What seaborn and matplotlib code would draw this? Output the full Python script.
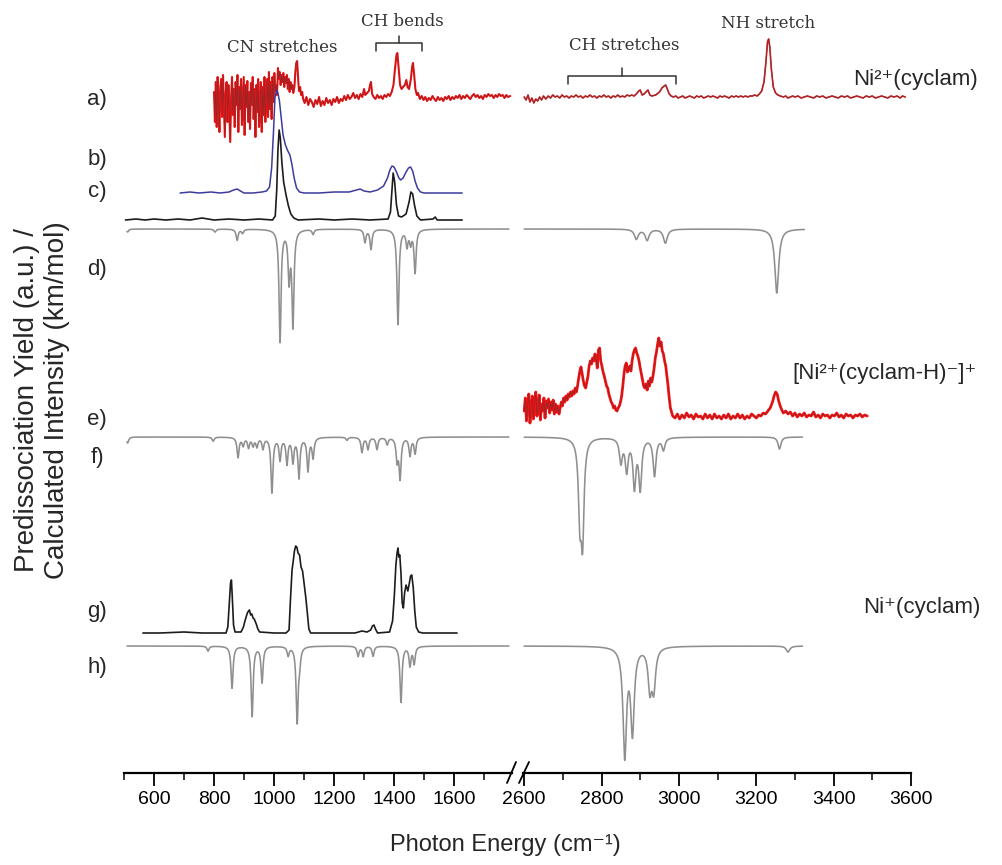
import numpy as np
import matplotlib
matplotlib.use("Agg")
import matplotlib.pyplot as plt
from matplotlib.lines import Line2D
import seaborn as sns

# ── Layout (pixels of the 1002x865 figure) ────────────────
W, H = 1002, 865
AXIS_Y = 773
LEFT_RANGE = (500, 1793)
RIGHT_RANGE = (2597, 3600)

# ── Experimental traces: (photon energy cm-1, yield a.u.) ─
a_left = [
    (800, 5), (803, -25), (806, 15), (809, -30), (812, 20), (815, -5), (818, -35), (821, 10),
    (824, 18), (827, -20), (830, 22), (833, -10), (836, -40), (839, 5), (842, 15), (845, -25),
    (848, 12), (851, -15), (854, -45), (857, 0), (860, 20), (863, -18), (866, 8), (869, -30),
    (872, 15), (875, -8), (878, 22), (881, -35), (884, 10), (887, -12), (890, 18), (893, -28),
    (896, -5), (899, 20), (902, -38), (905, 12), (908, -10), (911, 16), (914, -25), (917, 5),
    (920, -32), (923, 14), (926, -8), (929, 20), (932, -22), (935, 8), (938, -40), (941, 12),
    (944, -15), (947, 18), (950, -30), (953, -10), (956, 15), (959, -35), (962, 10), (965, -18),
    (968, 20), (971, -25), (974, 5), (977, 18), (980, -20), (983, 25), (986, -12), (989, 15),
    (992, -22), (995, 20), (998, -5), (1001, 24), (1004, 6), (1007, 12), (1010, 2),
    (1013, 29), (1016, 18), (1019, 25), (1022, 12), (1025, 22), (1028, 15), (1031, 24),
    (1034, 10), (1037, 20), (1040, 14), (1043, 22), (1046, 8), (1049, 18), (1052, 5),
    (1055, 15), (1058, 8), (1061, 12), (1064, 4), (1068, 10), (1071, 25), (1074, 34),
    (1077, 36), (1080, 20), (1083, 6), (1087, 10), (1090, 2), (1094, 5), (1097, -2),
    (1102, -6), (1108, 0), (1114, -8), (1120, -2), (1126, -5), (1132, -10), (1138, -3),
    (1144, -7), (1150, 0), (1156, -9), (1162, -4), (1168, -8), (1174, -1), (1180, -6),
    (1186, -3), (1192, -8), (1198, -2), (1204, -5), (1210, 0), (1216, -6), (1222, -2),
    (1228, -4), (1234, 1), (1240, -3), (1246, 2), (1252, -2), (1258, 0), (1264, 4),
    (1270, -1), (1276, 2), (1282, -2), (1288, 3), (1294, 0), (1300, 8), (1304, 2),
    (1310, 4), (1316, 6), (1320, 12), (1323, 15), (1327, 3), (1332, 0), (1338, -2),
    (1344, 2), (1350, -1), (1356, 1), (1362, -2), (1368, 2), (1374, 0), (1380, 3),
    (1386, 1), (1392, 5), (1398, 12), (1403, 28), (1408, 42), (1411, 44), (1415, 30),
    (1420, 12), (1425, 8), (1430, 10), (1436, 12), (1441, 17), (1445, 10), (1450, 8),
    (1456, 18), (1460, 30), (1463, 34), (1467, 22), (1471, 8), (1476, 2), (1480, 4),
    (1486, -2), (1492, 1), (1498, -3), (1504, 0), (1510, -4), (1516, -1), (1522, -3),
    (1528, 1), (1534, -2), (1540, -4), (1546, 0), (1552, -3), (1558, -1), (1564, -4),
    (1570, 0), (1576, -2), (1582, 1), (1588, -3), (1594, 0), (1600, -2), (1606, 1),
    (1612, -1), (1618, 2), (1624, -2), (1630, 1), (1636, -1), (1642, 2), (1648, 0),
    (1654, -2), (1660, 1), (1666, 3), (1672, 0), (1678, 2), (1684, -1), (1690, 1),
    (1696, -2), (1702, 2), (1708, 0), (1714, 3), (1720, 1), (1726, 2), (1732, -1),
    (1738, 2), (1744, 0), (1750, 3), (1756, 1), (1762, 2), (1768, -1), (1774, 2),
    (1780, 0), (1787, 1),
]

a_right = [
    (2600, 0), (2605, -3), (2610, 2), (2615, -5), (2620, -1), (2625, -6), (2630, -2),
    (2635, -4), (2640, 0), (2645, -3), (2650, 1), (2656, -2), (2662, 1), (2668, -1),
    (2674, 2), (2680, 0), (2686, 1), (2692, -1), (2698, 2), (2704, 0), (2710, 1),
    (2716, -1), (2722, 1), (2728, 0), (2734, 2), (2740, 0), (2746, 1), (2752, -1),
    (2758, 1), (2764, 0), (2770, 2), (2776, 0), (2782, 1), (2788, -1), (2794, 1),
    (2800, 0), (2806, 2), (2812, 0), (2818, 1), (2824, -1), (2830, 1), (2836, 0),
    (2842, 2), (2848, 0), (2854, 1), (2860, 0), (2866, 2), (2872, 1), (2878, 2),
    (2884, 1), (2890, 3), (2896, 6), (2900, 7), (2905, 2), (2910, 3), (2915, 5),
    (2920, 7), (2925, 2), (2930, 1), (2940, 2), (2950, 5), (2956, 9), (2962, 11),
    (2966, 12), (2970, 8), (2975, 3), (2980, 1), (2986, 0), (2992, 1), (2998, -1),
    (3004, 0), (3010, 1), (3016, -1), (3022, 0), (3028, 1), (3034, 0), (3040, -1),
    (3046, 1), (3052, 0), (3058, 1), (3064, -1), (3070, 0), (3076, 1), (3082, 0),
    (3088, 1), (3094, 0), (3100, -1), (3106, 1), (3112, 0), (3118, 1), (3124, 0),
    (3130, -1), (3136, 1), (3142, 0), (3148, 1), (3154, 0), (3160, 1), (3166, 0),
    (3172, 1), (3178, 0), (3184, 1), (3190, 1), (3196, 2), (3202, 1), (3208, 3),
    (3214, 6), (3220, 15), (3225, 35), (3229, 55), (3232, 58), (3235, 50), (3239, 28),
    (3244, 10), (3250, 4), (3256, 2), (3262, 1), (3270, 0), (3276, 1), (3282, -1),
    (3288, 0), (3294, 1), (3300, 0), (3308, 1), (3316, -1), (3324, 0), (3332, 1),
    (3340, 0), (3348, -1), (3356, 1), (3364, 0), (3372, 1), (3380, -1), (3388, 0),
    (3396, 1), (3404, 0), (3412, -1), (3420, 1), (3428, 0), (3436, 1), (3444, -1),
    (3452, 0), (3460, 1), (3468, 0), (3476, -1), (3484, 1), (3492, 0), (3500, 1),
    (3508, -1), (3516, 0), (3524, 1), (3532, 0), (3540, -1), (3548, 1), (3556, 0),
    (3564, 1), (3572, -1), (3578, 1), (3585, 0),
]

b_blue = [
    (687, 0), (720, 1), (750, 0), (790, 1), (820, 0), (850, 1), (865, 3), (877, 4),
    (888, 2), (900, 0), (930, 0), (960, 1), (975, 2), (985, 6), (992, 25), (998, 60),
    (1003, 95), (1008, 103), (1013, 100), (1018, 92), (1024, 75), (1030, 58), (1038, 48),
    (1046, 42), (1053, 38), (1060, 28), (1067, 15), (1075, 5), (1085, 1), (1100, 0),
    (1150, 0), (1200, 1), (1250, 1), (1275, 3), (1287, 4), (1300, 2), (1320, 1),
    (1345, 3), (1365, 7), (1378, 15), (1386, 23), (1393, 27), (1400, 26), (1408, 21),
    (1416, 15), (1422, 13), (1430, 15), (1440, 21), (1448, 25), (1455, 26), (1462, 22),
    (1470, 12), (1478, 5), (1488, 1), (1500, 0), (1560, 0), (1627, 0),
]

c_black = [
    (505, 0), (540, 1), (570, 0), (600, 1), (640, 0), (680, 1), (720, 0), (760, 2),
    (800, 0), (850, 1), (900, 0), (950, 1), (995, 0), (1004, 4), (1009, 30), (1013, 70),
    (1017, 90), (1021, 82), (1026, 58), (1032, 38), (1040, 25), (1048, 14), (1056, 6),
    (1066, 2), (1080, 0), (1150, 1), (1200, 0), (1260, 1), (1320, 0), (1380, 1),
    (1388, 8), (1393, 30), (1397, 47), (1402, 38), (1408, 15), (1415, 4), (1425, 3),
    (1440, 6), (1450, 18), (1456, 28), (1462, 26), (1468, 15), (1476, 4), (1488, 0),
    (1530, 1), (1537, 3), (1544, 0), (1627, 0),
]

e_red = [
    (2600, 5), (2603, 18), (2606, -5), (2609, 12), (2612, 22), (2615, -7), (2618, 8),
    (2621, 20), (2624, -3), (2627, 14), (2630, 24), (2633, 0), (2636, 10), (2639, 21),
    (2642, -4), (2645, 12), (2648, 5), (2651, 18), (2654, -2), (2657, 15), (2660, 8),
    (2663, 17), (2666, 3), (2669, 14), (2672, 6), (2675, 16), (2678, 2), (2681, 12),
    (2684, 4), (2687, 10), (2690, 2), (2693, 8), (2696, 14), (2699, 10), (2702, 18),
    (2705, 14), (2708, 20), (2711, 16), (2714, 22), (2717, 19), (2720, 24), (2723, 20),
    (2726, 25), (2729, 22), (2732, 28), (2735, 24), (2738, 30), (2741, 38), (2744, 45),
    (2747, 49), (2750, 42), (2753, 35), (2756, 30), (2759, 28), (2762, 34), (2765, 40),
    (2768, 50), (2771, 55), (2774, 52), (2777, 58), (2780, 55), (2783, 62), (2786, 58),
    (2789, 48), (2792, 66), (2795, 68), (2798, 55), (2801, 50), (2804, 44), (2807, 40),
    (2810, 35), (2813, 30), (2816, 28), (2819, 22), (2822, 18), (2825, 14), (2828, 12),
    (2831, 8), (2834, 10), (2837, 6), (2840, 5), (2843, 8), (2846, 10), (2849, 14),
    (2852, 20), (2855, 30), (2858, 42), (2861, 50), (2864, 53), (2867, 44), (2870, 46),
    (2873, 50), (2876, 45), (2879, 55), (2882, 62), (2885, 66), (2888, 68), (2891, 63),
    (2894, 60), (2897, 55), (2900, 48), (2903, 42), (2906, 36), (2909, 30), (2912, 28),
    (2915, 32), (2918, 26), (2921, 35), (2924, 30), (2927, 38), (2930, 34), (2933, 40),
    (2936, 48), (2939, 58), (2942, 64), (2945, 72), (2948, 78), (2951, 70), (2954, 74),
    (2957, 65), (2960, 62), (2963, 55), (2966, 50), (2969, 40), (2972, 30), (2975, 18),
    (2978, 8), (2981, 4), (2984, 0), (2990, -2), (2996, 2), (3002, -3), (3008, 1),
    (3014, -2), (3020, 3), (3026, -1), (3032, 1), (3038, -3), (3044, 2), (3050, -1),
    (3056, 0), (3062, -3), (3068, 2), (3074, -2), (3080, 1), (3086, -3), (3092, 2),
    (3098, -2), (3104, 0), (3110, -3), (3116, 1), (3122, -2), (3128, 2), (3134, -3),
    (3140, 0), (3146, -2), (3152, 2), (3158, -2), (3164, 1), (3170, -3), (3176, 0),
    (3182, -2), (3188, 2), (3194, 0), (3200, -2), (3206, 1), (3212, 0), (3218, 3),
    (3224, 2), (3230, 5), (3236, 8), (3242, 14), (3246, 20), (3250, 24), (3254, 22),
    (3258, 15), (3262, 10), (3266, 6), (3270, 3), (3276, 5), (3282, 2), (3288, 4),
    (3294, 0), (3300, 3), (3306, -1), (3312, 2), (3318, 0), (3324, 3), (3330, -1),
    (3336, 1), (3342, 0), (3348, 4), (3354, -1), (3360, 1), (3366, -2), (3372, 2),
    (3378, 0), (3384, 1), (3390, -2), (3396, 1), (3402, 0), (3408, 3), (3414, -1),
    (3420, 1), (3426, -2), (3432, 2), (3438, 0), (3444, 1), (3450, -2), (3456, 1),
    (3462, 0), (3468, 2), (3474, -1), (3480, 1), (3487, 0),
]

g_black = [
    (563, 0), (620, 0), (700, 1), (760, 0), (840, 0), (846, 6), (851, 30), (855, 50),
    (858, 53), (861, 35), (865, 8), (870, 1), (890, 1), (898, 6), (903, 12), (907, 16),
    (911, 20), (915, 22), (918, 23), (922, 18), (926, 19), (930, 15), (934, 14), (938, 11),
    (942, 8), (946, 4), (952, 1), (1000, 0), (1040, 0), (1050, 3), (1055, 35), (1060, 63),
    (1064, 72), (1068, 82), (1072, 87), (1076, 86), (1080, 80), (1085, 78), (1090, 66),
    (1095, 62), (1100, 50), (1106, 35), (1111, 20), (1116, 4), (1122, 0), (1200, 0),
    (1270, 0), (1293, 2), (1310, 1), (1322, 3), (1328, 7), (1333, 8), (1338, 4),
    (1345, 0), (1385, 1), (1395, 12), (1401, 38), (1406, 68), (1410, 80), (1413, 85),
    (1416, 76), (1419, 78), (1423, 60), (1427, 30), (1431, 25), (1435, 40), (1440, 48),
    (1446, 42), (1451, 50), (1455, 57), (1459, 58), (1464, 45), (1469, 22), (1474, 6),
    (1482, 1), (1495, 0), (1560, 0), (1610, 0),
]

# ── Calculated stick spectra: (peak position cm-1, intensity) ──
d_left = [(512, 3), (803, 3), (877, 11), (895, 4), (1020, 112), (1050, 48), (1063, 95),
          (1130, 5), (1303, 13), (1323, 20), (1413, 95), (1443, 16), (1455, 13), (1470, 43)]
d_right = [(2890, 10), (2918, 11), (2965, 14), (3253, 64)]

f_left = [(512, 6), (797, 4), (880, 20), (897, 8), (915, 10), (930, 8), (943, 9),
          (963, 11), (993, 55), (1020, 22), (1043, 26), (1063, 24), (1083, 40), (1113, 33),
          (1130, 20), (1243, 3), (1293, 15), (1313, 12), (1343, 12), (1377, 7),
          (1410, 22), (1420, 40), (1453, 18), (1470, 16)]
f_right = [(2744, 73), (2751, 95), (2850, 24), (2865, 32), (2885, 48), (2900, 50),
           (2937, 38), (2960, 12), (3260, 12)]

h_left = [(780, 5), (860, 42), (927, 70), (960, 36), (1047, 9), (1077, 75), (1085, 14),
          (1280, 10), (1297, 10), (1330, 10), (1423, 56), (1453, 19), (1467, 17)]
h_right = [(2860, 108), (2880, 84), (2925, 40), (2935, 40), (3282, 6)]

# pixel row of each trace's baseline (layout only)
BASE = {"a": 97, "b": 193, "c": 220, "d": 229, "e": 416, "f": 437, "g": 633, "h": 646}
LABEL_Y = {"a": 100, "b": 160, "c": 192, "d": 270, "e": 420, "f": 458, "g": 612, "h": 667}


def fx(x):
    return x / W


def fy(y):
    return 1 - y / H


def lorentz_sum(lo, hi, peaks, hw):
    grid = np.arange(lo, hi, 0.5)
    out = np.zeros_like(grid)
    for pos, amp in peaks:
        out += amp * hw**2 / ((grid - pos) ** 2 + hw**2)
    return grid, out


def draw(ax, xs, ys, color, lw):
    sns.lineplot(x=xs, y=ys, ax=ax, color=color, linewidth=lw,
                 estimator=None, sort=False, legend=False)


def draw_exp(ax, pts, key, colors, lws):
    xs = np.array([p[0] for p in pts], float)
    ys = AXIS_Y - BASE[key] + np.array([p[1] for p in pts], float)
    for c, lw in zip(colors, lws):
        draw(ax, xs, ys, c, lw)


def draw_calc(ax, lo, hi, peaks, key, hw):
    grid, spec = lorentz_sum(lo, hi, peaks, hw)
    draw(ax, grid, AXIS_Y - BASE[key] - spec, "#8f8f8f", 1.15)


sns.set_theme(style="white")
plt.rcParams["font.family"] = ["Liberation Sans", "DejaVu Sans"]
plt.rcParams["mathtext.fontset"] = "custom"
plt.rcParams["mathtext.rm"] = "Liberation Sans"
plt.rcParams["mathtext.default"] = "regular"

fig = plt.figure(figsize=(W / 100, H / 100), dpi=100)
bottom = fy(AXIS_Y)
ax_l = fig.add_axes([fx(124), bottom, fx(388), AXIS_Y / H])
ax_r = fig.add_axes([fx(523), bottom, fx(388), AXIS_Y / H])

RED = ["#ff1010", "#9c2427"]
RED_LW = [1.5, 0.6]

# left panel
draw_calc(ax_l, 510, 1783, d_left, "d", 4)
draw_calc(ax_l, 510, 1783, f_left, "f", 4)
draw_calc(ax_l, 510, 1783, h_left, "h", 4)
draw_exp(ax_l, a_left, "a", RED, RED_LW)
draw_exp(ax_l, b_blue, "b", ["#3c3c9c"], [1.1])
draw_exp(ax_l, c_black, "c", ["#1c1c1c"], [1.2])
draw_exp(ax_l, g_black, "g", ["#1c1c1c"], [1.2])

# right panel
draw_calc(ax_r, 2600, 3325, d_right, "d", 6)
draw_calc(ax_r, 2600, 3320, f_right, "f", 4.5)
draw_calc(ax_r, 2600, 3320, h_right, "h", 5.5)
draw_exp(ax_r, a_right, "a", ["#d42a2a", "#a3262a"], [1.2, 0.8])
draw_exp(ax_r, e_red, "e", RED, [2.0, 0.6])

for ax, rng, majors, minors in [
    (ax_l, LEFT_RANGE, np.arange(600, 1601, 200), np.arange(500, 1701, 100)),
    (ax_r, RIGHT_RANGE, np.arange(2600, 3601, 200), np.arange(2700, 3501, 100)),
]:
    ax.set_xlim(*rng)
    ax.set_ylim(0, AXIS_Y)
    ax.patch.set_alpha(0)
    for side in ["left", "right", "top"]:
        ax.spines[side].set_visible(False)
    ax.spines["bottom"].set_linewidth(1.6)
    ax.spines["bottom"].set_color("black")
    ax.set_yticks([])
    ax.set_xticks(majors)
    ax.set_xticks(minors, minor=True)
    ax.tick_params(axis="x", which="major", direction="out", length=9, width=1.3,
                   labelsize=14, pad=4, colors="black", bottom=True)
    ax.tick_params(axis="x", which="minor", direction="out", length=5, width=1.3,
                   bottom=True)
    ax.set_xlabel("")
    ax.set_ylabel("")

# axis break marks
for x0, x1 in [(507, 516), (519, 529)]:
    fig.add_artist(Line2D([fx(x0), fx(x1)], [fy(783), fy(762)], color="black", lw=1.3))

# trace letters
for key, yy in LABEL_Y.items():
    fig.text(fx(97), fy(yy), f"{key})", ha="center", va="center", fontsize=16)

# species labels
fig.text(fx(853), fy(80), "Ni²⁺(cyclam)", ha="left", va="center", fontsize=16)
fig.text(fx(792), fy(373), "[Ni²⁺(cyclam-H)⁻]⁺", ha="left", va="center", fontsize=16)
fig.text(fx(863), fy(607), "Ni⁺(cyclam)", ha="left", va="center", fontsize=16)

# band annotations with brackets
SERIF = dict(family="DejaVu Serif", fontsize=12, color="#333333", ha="center", va="center")
fig.text(fx(282), fy(47), "CN stretches", **SERIF)
fig.text(fx(402), fy(22), "CH bends", **SERIF)
fig.text(fx(624), fy(45), "CH stretches", **SERIF)
fig.text(fx(768), fy(24), "NH stretch", **SERIF)


def bracket(x0, x1, y, drop, tip):
    xm = (x0 + x1) / 2
    fig.add_artist(Line2D([fx(x0), fx(x0), fx(x1), fx(x1)],
                          [fy(y + drop), fy(y), fy(y), fy(y + drop)], color="#333333", lw=1.1))
    fig.add_artist(Line2D([fx(xm), fx(xm)], [fy(y), fy(tip)], color="#333333", lw=1.1))


bracket(376, 422, 43, 8, 36)
bracket(568, 676, 76, 8, 68)

# axis titles
fig.text(fx(27), fy(400), "Predissociation Yield (a.u.) /", rotation=90,
         ha="center", va="center", fontsize=20)
fig.text(fx(57), fy(400), "Calculated Intensity (km/mol)", rotation=90,
         ha="center", va="center", fontsize=20)
fig.text(fx(505), fy(845), "Photon Energy (cm⁻¹)", ha="center", va="center",
         fontsize=17)

fig.savefig("out.png", dpi=100)
